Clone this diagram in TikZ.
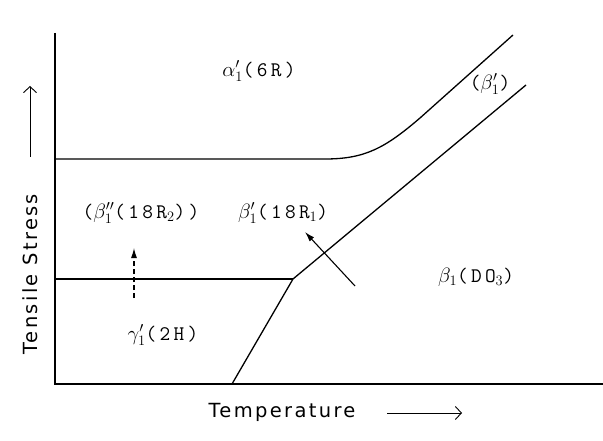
\documentclass[tikz,border=0pt]{standalone}
\usepackage{fontspec}
\usetikzlibrary{arrows.meta}
\newfontfamily\axisfont[LetterSpace=12]{DejaVu Sans}
\newfontfamily\phasefont[LetterSpace=16]{Latin Modern Mono}
\tikzset{
  phase/.style={font=\phasefont\fontsize{20.74}{23}\selectfont},
  axislabel/.style={font=\axisfont\fontsize{19.5}{21}\selectfont},
  axisarrow/.style={line width=0.9pt,-{Straight Barb[length=6pt,width=13pt]}},
  shift arrow/.style={line width=1.1pt,-{Latex[length=10pt,width=6pt]}}
}
\begin{document}
\begin{tikzpicture}[x=1pt,y=-1pt,line width=1.3pt]
    \useasboundingbox (0,0) rectangle (603,441);
    % axes
    \draw (55,33) -- (55,384) -- (603,384);
    % upper boundary (alpha' / beta')
    \draw (55,159) -- (325,159) .. controls (365,159) and (385,148) .. (420,118) -- (513,35);
    % lower boundary (gamma' / beta')
    \draw (55,279) -- (293,279);
    \draw (232,384) -- (293,279) -- (526,85);
    % stress induced transformations
    \coordinate (gfoot) at (134,298);
    \coordinate (gtip) at (134,248);
    \draw[shift arrow,dash pattern=on 5pt off 3pt] (gfoot) -- (gtip);
    \coordinate (bfoot) at (355,286);
    \coordinate (btip) at (305,232);
    \draw[shift arrow] (bfoot) -- (btip);
    % phases
    \node[phase] (alpha) at (259,71) {$\alpha'_1$(6R)};
    \node[phase] (betaII) at (141,213) {($\beta''_1$(18R$_2$))};
    \node[phase] (betaI) at (283,213) {$\beta'_1$(18R$_1$)};
    \node[phase] (betaIb) at (490,84) {($\beta'_1$)};
    \node[phase] (beta) at (476,277) {$\beta_1$(DO$_3$)};
    \node[phase] (gamma) at (163,335) {$\gamma'_1$(2H)};
    % axis labels
    \node[axislabel,rotate=90] (stress) at (30,274) {Tensile Stress};
    \coordinate (sfoot) at (30,157);
    \coordinate (stip) at (30,86);
    \draw[axisarrow] (sfoot) -- (stip);
    \node[axislabel] (temp) at (282,412) {Temperature};
    \coordinate (tfoot) at (387,413);
    \coordinate (ttip) at (462,413);
    \draw[axisarrow] (tfoot) -- (ttip);
\end{tikzpicture}
\end{document}
